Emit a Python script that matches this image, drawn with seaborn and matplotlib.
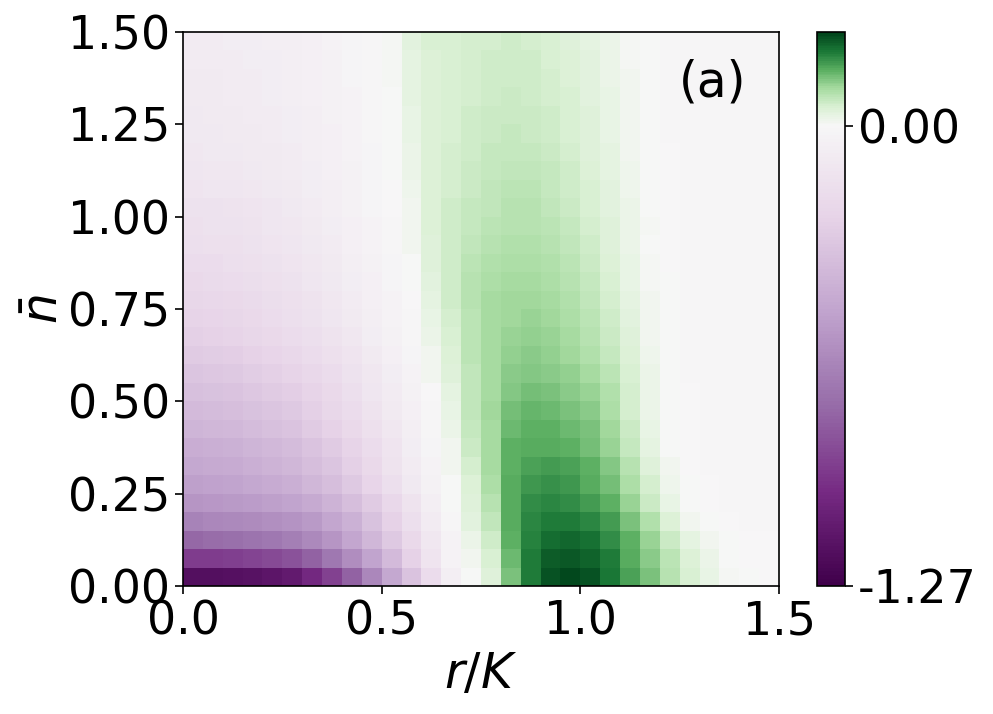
import numpy as np
import pandas as pd
import matplotlib
matplotlib.use('Agg')
import matplotlib.pyplot as plt
import seaborn as sns
from matplotlib.colors import ListedColormap

sns.set_style('ticks', {'axes.edgecolor': 'black', 'xtick.color': 'black', 'ytick.color': 'black',
                        'text.color': 'black', 'axes.labelcolor': 'black'})
plt.rcParams['font.family'] = ['DejaVu Sans']
plt.rcParams['mathtext.fontset'] = 'dejavusans'

# cell centres (r/K along x, n-bar along y), step 0.05
step = 0.05
r_over_K = np.round(0.025 + step * np.arange(30), 3)
n_bar = np.round(0.025 + step * np.arange(30), 3)

# values, bottom row (n_bar = 0.025) first
delta_rows = [
    [-1.18, -1.18, -1.17, -1.16, -1.14, -1.10, -1.03, -0.93, -0.80, -0.65, -0.49, -0.34, -0.19, -0.06, 0.00, 0.04, 0.13, 0.20, 0.24, 0.25, 0.24, 0.205, 0.165, 0.13, 0.085, 0.05, 0.025, 0.008, 0.0, -0.005],
    [-0.95, -0.95, -0.94, -0.92, -0.90, -0.87, -0.81, -0.72, -0.62, -0.51, -0.39, -0.26, -0.13, -0.03, 0.01, 0.05, 0.14, 0.20, 0.23, 0.235, 0.225, 0.20, 0.16, 0.12, 0.08, 0.045, 0.02, 0.005, -0.003, -0.005],
    [-0.78, -0.77, -0.76, -0.74, -0.72, -0.69, -0.64, -0.58, -0.50, -0.41, -0.31, -0.21, -0.11, -0.03, 0.02, 0.06, 0.15, 0.195, 0.215, 0.22, 0.21, 0.185, 0.15, 0.11, 0.065, 0.03, 0.01, 0.0, -0.005, -0.005],
    [-0.66, -0.65, -0.64, -0.63, -0.61, -0.59, -0.56, -0.50, -0.44, -0.35, -0.26, -0.17, -0.08, -0.01, 0.035, 0.075, 0.155, 0.19, 0.20, 0.20, 0.19, 0.17, 0.13, 0.09, 0.045, 0.015, 0.0, -0.005, -0.008, -0.008],
    [-0.58, -0.57, -0.56, -0.55, -0.53, -0.51, -0.48, -0.43, -0.37, -0.30, -0.22, -0.14, -0.06, 0.0, 0.04, 0.085, 0.16, 0.185, 0.19, 0.185, 0.17, 0.15, 0.11, 0.065, 0.025, 0.005, -0.005, -0.008, -0.01, -0.01],
    [-0.53, -0.52, -0.51, -0.49, -0.47, -0.45, -0.41, -0.37, -0.31, -0.24, -0.17, -0.10, -0.04, 0.005, 0.045, 0.095, 0.155, 0.175, 0.18, 0.175, 0.16, 0.135, 0.095, 0.055, 0.018, 0.0, -0.005, -0.008, -0.01, -0.01],
    [-0.49, -0.48, -0.47, -0.45, -0.43, -0.41, -0.37, -0.33, -0.27, -0.21, -0.14, -0.08, -0.03, 0.01, 0.055, 0.10, 0.15, 0.165, 0.17, 0.165, 0.15, 0.125, 0.085, 0.04, 0.01, -0.002, -0.006, -0.008, -0.01, -0.01],
    [-0.46, -0.45, -0.44, -0.42, -0.40, -0.38, -0.34, -0.30, -0.25, -0.19, -0.13, -0.07, -0.02, 0.015, 0.065, 0.10, 0.15, 0.16, 0.16, 0.15, 0.135, 0.11, 0.07, 0.03, 0.005, -0.003, -0.007, -0.01, -0.01, -0.01],
    [-0.42, -0.41, -0.40, -0.38, -0.36, -0.34, -0.30, -0.26, -0.21, -0.16, -0.11, -0.06, -0.015, 0.02, 0.07, 0.10, 0.14, 0.15, 0.15, 0.14, 0.13, 0.105, 0.065, 0.025, 0.004, -0.004, -0.008, -0.01, -0.01, -0.01],
    [-0.39, -0.38, -0.37, -0.35, -0.33, -0.31, -0.27, -0.23, -0.19, -0.14, -0.09, -0.05, -0.01, 0.025, 0.075, 0.105, 0.135, 0.145, 0.14, 0.13, 0.12, 0.095, 0.055, 0.02, 0.003, -0.005, -0.008, -0.01, -0.01, -0.01],
    [-0.36, -0.35, -0.34, -0.32, -0.30, -0.28, -0.25, -0.21, -0.17, -0.12, -0.08, -0.04, -0.005, 0.03, 0.075, 0.10, 0.125, 0.135, 0.13, 0.12, 0.11, 0.09, 0.055, 0.02, 0.002, -0.005, -0.008, -0.01, -0.01, -0.01],
    [-0.33, -0.32, -0.31, -0.29, -0.27, -0.25, -0.22, -0.19, -0.15, -0.11, -0.07, -0.03, 0.01, 0.04, 0.078, 0.10, 0.12, 0.125, 0.12, 0.115, 0.10, 0.08, 0.05, 0.02, 0.0, -0.006, -0.008, -0.01, -0.01, -0.01],
    [-0.30, -0.29, -0.28, -0.26, -0.24, -0.22, -0.19, -0.16, -0.13, -0.09, -0.055, -0.02, 0.015, 0.045, 0.08, 0.10, 0.115, 0.12, 0.115, 0.105, 0.09, 0.07, 0.045, 0.018, 0.0, -0.006, -0.008, -0.01, -0.01, -0.01],
    [-0.27, -0.26, -0.25, -0.23, -0.21, -0.19, -0.17, -0.14, -0.11, -0.07, -0.045, -0.015, 0.02, 0.05, 0.08, 0.10, 0.11, 0.115, 0.11, 0.10, 0.085, 0.065, 0.04, 0.015, 0.0, -0.006, -0.008, -0.01, -0.01, -0.01],
    [-0.25, -0.24, -0.23, -0.21, -0.19, -0.17, -0.15, -0.12, -0.09, -0.06, -0.035, -0.01, 0.025, 0.055, 0.08, 0.10, 0.105, 0.11, 0.105, 0.095, 0.08, 0.06, 0.035, 0.012, 0.0, -0.006, -0.008, -0.01, -0.01, -0.01],
    [-0.23, -0.22, -0.21, -0.20, -0.18, -0.16, -0.14, -0.11, -0.08, -0.055, -0.03, -0.005, 0.03, 0.06, 0.085, 0.10, 0.105, 0.105, 0.10, 0.09, 0.075, 0.055, 0.03, 0.01, 0.0, -0.006, -0.008, -0.01, -0.01, -0.01],
    [-0.21, -0.20, -0.19, -0.18, -0.165, -0.145, -0.125, -0.10, -0.075, -0.05, -0.025, 0.0, 0.035, 0.06, 0.085, 0.095, 0.10, 0.10, 0.095, 0.085, 0.07, 0.05, 0.028, 0.008, 0.0, -0.006, -0.008, -0.01, -0.01, -0.01],
    [-0.19, -0.185, -0.175, -0.165, -0.15, -0.13, -0.11, -0.09, -0.065, -0.04, -0.02, 0.005, 0.04, 0.06, 0.08, 0.09, 0.095, 0.095, 0.09, 0.08, 0.065, 0.045, 0.025, 0.006, -0.002, -0.006, -0.008, -0.01, -0.01, -0.01],
    [-0.17, -0.165, -0.16, -0.15, -0.135, -0.12, -0.10, -0.08, -0.055, -0.035, -0.015, 0.01, 0.04, 0.06, 0.075, 0.085, 0.09, 0.09, 0.085, 0.075, 0.06, 0.042, 0.022, 0.005, -0.003, -0.007, -0.009, -0.01, -0.01, -0.01],
    [-0.16, -0.155, -0.15, -0.14, -0.125, -0.11, -0.09, -0.075, -0.05, -0.03, -0.01, 0.012, 0.045, 0.06, 0.07, 0.08, 0.088, 0.088, 0.08, 0.07, 0.056, 0.04, 0.022, 0.006, -0.003, -0.007, -0.009, -0.01, -0.01, -0.01],
    [-0.15, -0.145, -0.14, -0.13, -0.12, -0.10, -0.085, -0.065, -0.045, -0.025, -0.005, 0.015, 0.045, 0.06, 0.07, 0.078, 0.085, 0.085, 0.078, 0.067, 0.053, 0.038, 0.02, 0.005, -0.004, -0.007, -0.009, -0.01, -0.01, -0.01],
    [-0.13, -0.125, -0.12, -0.115, -0.105, -0.09, -0.075, -0.06, -0.04, -0.02, -0.003, 0.018, 0.045, 0.058, 0.067, 0.075, 0.08, 0.08, 0.074, 0.064, 0.05, 0.035, 0.018, 0.004, -0.004, -0.007, -0.009, -0.01, -0.01, -0.01],
    [-0.12, -0.115, -0.11, -0.105, -0.095, -0.085, -0.07, -0.055, -0.037, -0.018, 0.0, 0.02, 0.045, 0.056, 0.065, 0.072, 0.076, 0.076, 0.07, 0.06, 0.047, 0.032, 0.016, 0.003, -0.005, -0.007, -0.009, -0.01, -0.01, -0.01],
    [-0.11, -0.105, -0.10, -0.095, -0.088, -0.078, -0.065, -0.05, -0.034, -0.016, 0.002, 0.022, 0.045, 0.055, 0.063, 0.07, 0.073, 0.072, 0.066, 0.057, 0.044, 0.03, 0.014, 0.002, -0.005, -0.007, -0.009, -0.01, -0.01, -0.01],
    [-0.10, -0.097, -0.093, -0.088, -0.082, -0.072, -0.06, -0.046, -0.03, -0.014, 0.003, 0.025, 0.045, 0.054, 0.061, 0.067, 0.07, 0.069, 0.063, 0.054, 0.042, 0.028, 0.013, 0.002, -0.006, -0.007, -0.009, -0.01, -0.01, -0.01],
    [-0.10, -0.095, -0.09, -0.085, -0.078, -0.068, -0.056, -0.043, -0.028, -0.012, 0.004, 0.027, 0.046, 0.053, 0.06, 0.065, 0.068, 0.066, 0.06, 0.052, 0.04, 0.026, 0.012, 0.001, -0.006, -0.007, -0.009, -0.01, -0.01, -0.01],
    [-0.09, -0.088, -0.085, -0.08, -0.073, -0.064, -0.053, -0.04, -0.026, -0.011, 0.005, 0.03, 0.047, 0.053, 0.058, 0.063, 0.066, 0.064, 0.058, 0.05, 0.039, 0.025, 0.011, 0.001, -0.006, -0.007, -0.009, -0.01, -0.01, -0.01],
    [-0.09, -0.087, -0.083, -0.078, -0.071, -0.062, -0.051, -0.038, -0.024, -0.01, 0.006, 0.032, 0.048, 0.053, 0.057, 0.061, 0.064, 0.062, 0.056, 0.048, 0.037, 0.024, 0.01, 0.0, -0.007, -0.008, -0.009, -0.01, -0.01, -0.01],
    [-0.085, -0.083, -0.08, -0.075, -0.068, -0.06, -0.049, -0.036, -0.022, -0.009, 0.007, 0.034, 0.049, 0.053, 0.056, 0.06, 0.062, 0.06, 0.054, 0.046, 0.035, 0.022, 0.009, 0.0, -0.007, -0.008, -0.009, -0.01, -0.01, -0.01],
    [-0.08, -0.078, -0.075, -0.07, -0.064, -0.056, -0.046, -0.034, -0.02, -0.008, 0.008, 0.035, 0.05, 0.053, 0.055, 0.058, 0.06, 0.058, 0.052, 0.044, 0.034, 0.021, 0.008, 0.0, -0.007, -0.008, -0.009, -0.01, -0.01, -0.01],
]

x_ticks = [0.0, 0.5, 1.0, 1.5]
x_ticklabels = ['0.0', '0.5', '1.0', '1.5']
y_ticks = [0.0, 0.25, 0.5, 0.75, 1.0, 1.25, 1.5]
y_ticklabels = ['0.00', '0.25', '0.50', '0.75', '1.00', '1.25', '1.50']
vmin, vmax = -1.27, 0.26
cbar_ticks = [-1.27, 0.0]
cbar_ticklabels = ['-1.27', '0.00']

# PRGn split at white: purple half spans [vmin, 0], green half spans [0, vmax]
prgn = plt.get_cmap('PRGn')
cmap = ListedColormap(np.vstack([prgn(np.linspace(0, 0.5, 254, endpoint=False)),
                                 prgn(np.linspace(0.5, 1, 52))]))

df = pd.DataFrame(delta_rows, index=n_bar, columns=r_over_K)

fig = plt.figure(figsize=(9.93, 7.14), dpi=100)
ax = fig.add_axes([0.1843, 0.1793, 0.6002, 0.7759])
cax = fig.add_axes([0.8228, 0.1793, 0.0282, 0.7759])

sns.heatmap(df, ax=ax, cbar_ax=cax, cmap=cmap, vmin=vmin, vmax=vmax,
            xticklabels=False, yticklabels=False)
ax.invert_yaxis()

fs = 33
ax.set_xticks(np.array(x_ticks) / step)
ax.set_xticklabels(x_ticklabels)
ax.set_yticks(np.array(y_ticks) / step)
ax.set_yticklabels(y_ticklabels, rotation=0)
for s in ax.spines.values():
    s.set_visible(True)
    s.set_color('black')
    s.set_linewidth(1.2)
ax.tick_params(labelsize=fs, length=6, width=1.2, color='black', direction='out')
ax.set_xlabel('$r/K$', fontsize=35, labelpad=4)
ax.set_ylabel(r'$\bar{n}$', fontsize=35, labelpad=0)
ax.text(0.888, 0.908, '(a)', transform=ax.transAxes, fontsize=35, ha='center', va='center')

cbar = ax.collections[0].colorbar
cbar.set_ticks(cbar_ticks)
cbar.set_ticklabels(cbar_ticklabels)
cbar.outline.set_visible(True)
cbar.outline.set_edgecolor('black')
cbar.outline.set_linewidth(1.2)
cax.tick_params(labelsize=fs, length=6, width=1.2, color='black')

fig.savefig('out.png', dpi=100)
